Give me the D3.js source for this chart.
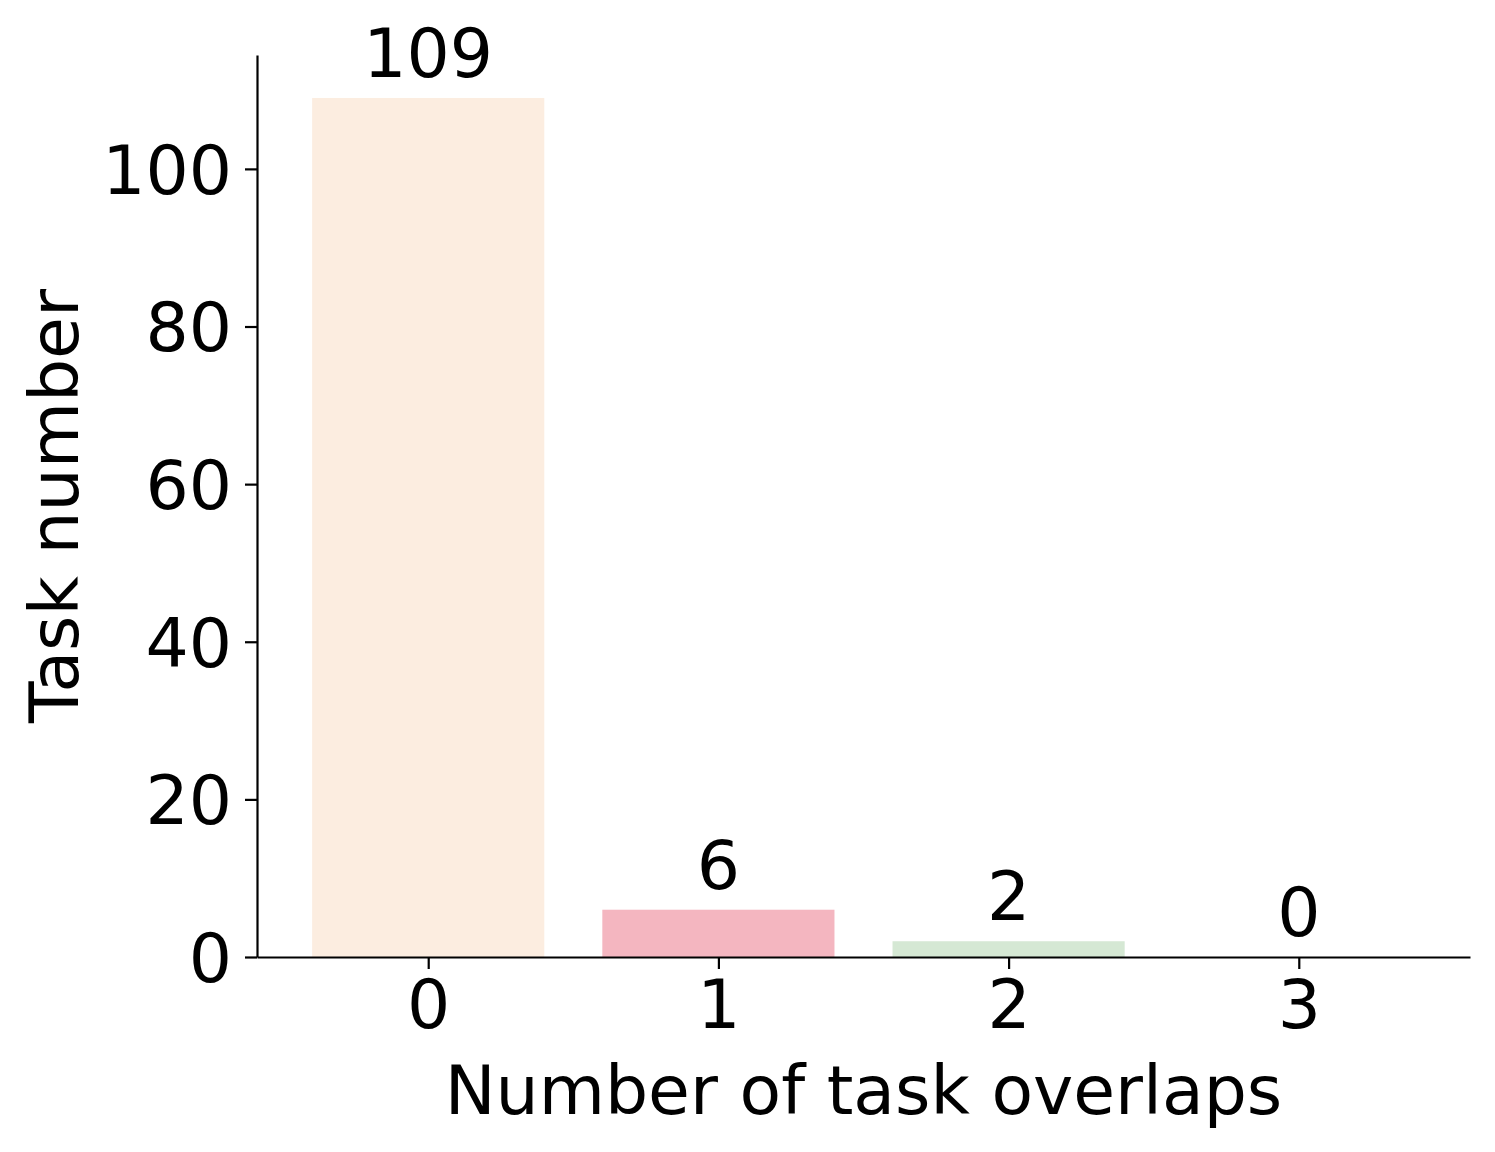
<!DOCTYPE html>
<html>
<head>
<meta charset="utf-8">
<script src="https://cdn.jsdelivr.net/npm/d3@7"></script>
<style>
  body { margin: 0; background: #fff; }
  svg text { font-family: "DejaVu Sans", sans-serif; fill: #000; }
</style>
</head>
<body>
<script>
const categories = ['0', '1', '2', '3'];
const taskCounts = [109, 6, 2, 0];
const barColors = ['#fcede0', '#f4b6c0', '#d5e8d4', '#c9d8ee'];
const yTicks = [0, 20, 40, 60, 80, 100];

const width = 1495;
const height = 1152;
const plotLeft = 257, plotRight = 1470, plotTop = 55, plotBottom = 957;
const fontSize = '68px';

const svg = d3.select('body').append('svg')
    .attr('width', width)
    .attr('height', height);

// x like matplotlib: bars 0.8 wide, 5% margins
const xScale = d3.scaleLinear()
    .domain([-0.59, 3.59])
    .range([plotLeft, plotRight]);

const yScale = d3.scaleLinear()
    .domain([0, 109 * 1.05])
    .range([plotBottom, plotTop]);

const barW = xScale(0.4) - xScale(-0.4);

svg.selectAll('rect.bar')
    .data(taskCounts)
    .enter()
    .append('rect')
        .attr('class', 'bar')
        .attr('x', (d, i) => xScale(i) - barW / 2)
        .attr('y', d => yScale(d))
        .attr('width', barW)
        .attr('height', d => plotBottom - yScale(d))
        .attr('fill', (d, i) => barColors[i]);

// value labels
svg.selectAll('text.val')
    .data(taskCounts)
    .enter()
    .append('text')
        .attr('class', 'val')
        .attr('x', (d, i) => xScale(i))
        .attr('y', d => yScale(d) - 21)
        .attr('text-anchor', 'middle')
        .style('font-size', fontSize)
        .text(d => d);

// x axis
const xAxis = svg.append('g')
    .attr('transform', `translate(0,${plotBottom})`)
    .call(d3.axisBottom(xScale)
        .tickValues(categories.map((c, i) => i))
        .tickFormat((d, i) => categories[i])
        .tickSize(12)
        .tickPadding(11)
        .tickSizeOuter(0));

// y axis
const yAxis = svg.append('g')
    .attr('transform', `translate(${plotLeft},0)`)
    .call(d3.axisLeft(yScale)
        .tickValues(yTicks)
        .tickSize(12)
        .tickPadding(13)
        .tickSizeOuter(0));

[xAxis, yAxis].forEach(ax => {
    ax.select('.domain').attr('stroke', '#000').attr('stroke-width', 2.2);
    ax.selectAll('.tick line').attr('stroke', '#000').attr('stroke-width', 2.2);
    ax.selectAll('.tick text')
        .style('font-size', fontSize)
        .style('font-family', '"DejaVu Sans", sans-serif')
        .attr('fill', '#000');
});
yAxis.selectAll('.tick text').attr('dy', '0.36em');

// axis titles
svg.append('text')
    .attr('x', (plotLeft + plotRight) / 2)
    .attr('y', 1114)
    .attr('text-anchor', 'middle')
    .style('font-size', fontSize)
    .text('Number of task overlaps');

svg.append('text')
    .attr('transform', `translate(78,${(plotTop + plotBottom) / 2}) rotate(-90)`)
    .attr('text-anchor', 'middle')
    .style('font-size', fontSize)
    .text('Task number');
</script>
</body>
</html>
